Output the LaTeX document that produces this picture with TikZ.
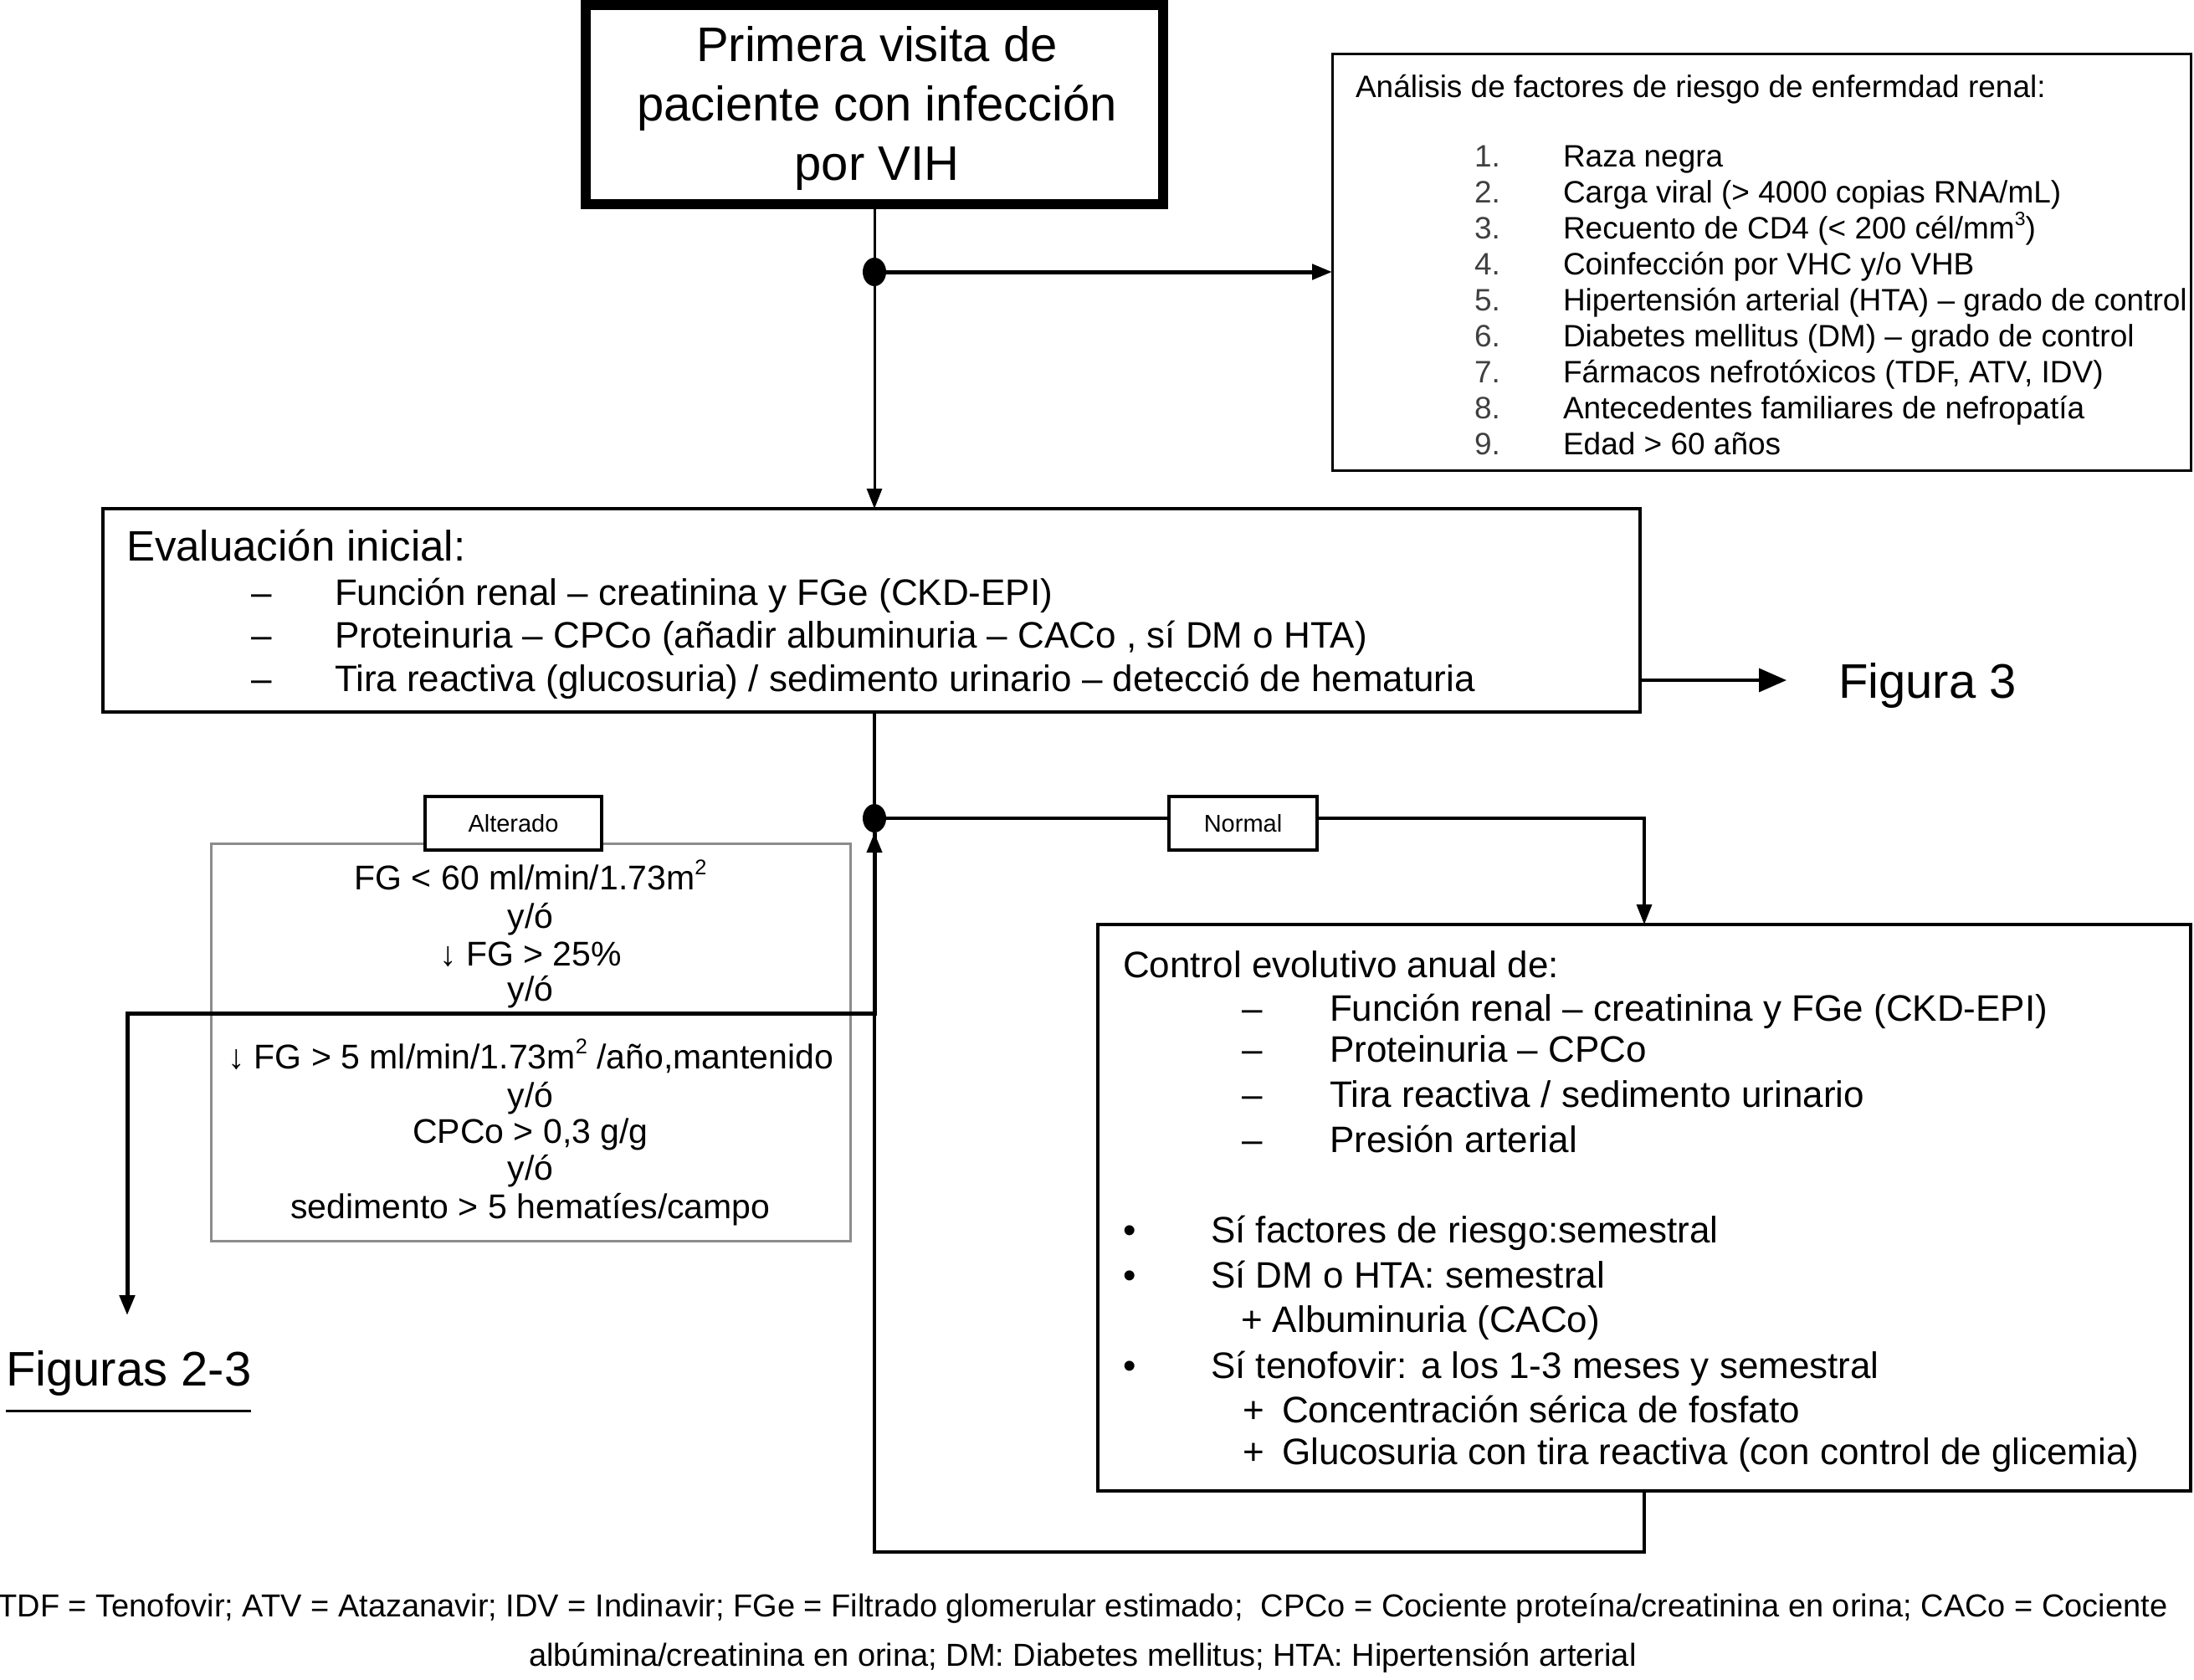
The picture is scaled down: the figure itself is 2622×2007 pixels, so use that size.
\documentclass[tikz,border=0pt]{standalone}
\usepackage{fontspec}
\setmainfont{Liberation Sans}
\usetikzlibrary{arrows.meta,shapes.geometric,calc}
\newcommand\mysup[1]{\raisebox{0.42em}{\scalebox{0.62}{#1}}}
\begin{document}
\begin{tikzpicture}[x=1pt,y=-1pt,
  frame/.style={draw, rectangle, inner sep=0pt, outer sep=0pt},
  txt/.style={inner sep=0pt, outer sep=0pt, anchor=base west},
  ctxt/.style={inner sep=0pt, outer sep=0pt, anchor=base},
  fT/.style={font=\fontsize{58}{70}\selectfont},
  fH/.style={font=\fontsize{51}{60}\selectfont},
  fA/.style={font=\fontsize{44}{52}\selectfont},
  fR/.style={font=\fontsize{37}{43}\selectfont},
  fG/.style={font=\fontsize{41}{45}\selectfont},
  fL/.style={font=\fontsize{29}{34}\selectfont},
  fF/.style={font=\fontsize{38}{46}\selectfont},
  junction/.style={ellipse, fill, inner sep=0pt, minimum width=28pt, minimum height=34pt},
  arr/.style={-{Triangle[length=24pt,width=18pt]}},
  arrbig/.style={-{Triangle[length=33pt,width=28pt]}},
  conn/.style={line width=3.5pt, line join=miter},
]
\useasboundingbox (0,0) rectangle (2622,2007);

% boxes
\node[frame, line width=12pt, minimum width=690pt, minimum height=238pt] (start) at (1045,125) {};
\node[ctxt, fT] (st1) at (1048,74) {Primera visita de};
\node[ctxt, fT] (st2) at (1048,145) {paciente con infección};
\node[ctxt, fT] (st3) at (1048,215) {por VIH};
\node[frame, line width=3pt, minimum width=1026pt, minimum height=497pt] (risk) at (2105,313.5) {};
\node[frame, line width=3.5pt, minimum width=1837pt, minimum height=243pt] (eval) at (1041.5,729.5) {};
\node[frame, line width=3pt, draw=black!45, minimum width=764pt, minimum height=475pt] (gray) at (634,1245.5) {};
\node[frame, line width=3.5pt, fill=white, minimum width=211pt, minimum height=64pt, fL] (alt) at (613.5,984) {Alterado};
\node[frame, line width=3.5pt, fill=white, minimum width=177pt, minimum height=64pt, fL] (normal) at (1485.5,984) {Normal};
\node[frame, line width=3.5pt, minimum width=1306pt, minimum height=677pt] (ctrl) at (1965,1443.5) {};

% junctions
\node[junction] (d1) at (1045,325) {};
\node[junction] (d2) at (1045,978) {};
\coordinate (f3in) at (2135,813);
\coordinate (loopy) at (1045,1855);
\coordinate (brk) at (1045,1211);
\coordinate (f23in) at (152,1572);

% risk box text
\node[txt, fR] (rh) at (1620,117) {Análisis de factores de riesgo de enfermdad renal:};
\node[txt, fR, text=black!75] (n1) at (1762,199) {1.};
\node[txt, fR, text=black!75] (n2) at (1762,242) {2.};
\node[txt, fR, text=black!75] (n3) at (1762,285) {3.};
\node[txt, fR, text=black!75] (n4) at (1762,328) {4.};
\node[txt, fR, text=black!75] (n5) at (1762,371) {5.};
\node[txt, fR, text=black!75] (n6) at (1762,414) {6.};
\node[txt, fR, text=black!75] (n7) at (1762,457) {7.};
\node[txt, fR, text=black!75] (n8) at (1762,500) {8.};
\node[txt, fR, text=black!75] (n9) at (1762,543) {9.};
\node[txt, fR] (r1) at (1868,199) {Raza negra};
\node[txt, fR] (r2) at (1868,242) {Carga viral (> 4000 copias RNA/mL)};
\node[txt, fR] (r3) at (1868,285) {Recuento de CD4 (< 200 cél/mm\mysup{3})};
\node[txt, fR] (r4) at (1868,328) {Coinfección por VHC y/o VHB};
\node[txt, fR] (r5) at (1868,371) {Hipertensión arterial (HTA) – grado de control};
\node[txt, fR] (r6) at (1868,414) {Diabetes mellitus (DM) – grado de control};
\node[txt, fR] (r7) at (1868,457) {Fármacos nefrotóxicos (TDF, ATV, IDV)};
\node[txt, fR] (r8) at (1868,500) {Antecedentes familiares de nefropatía};
\node[txt, fR] (r9) at (1868,543) {Edad > 60 años};

% evaluation text
\node[txt, fH] (eh) at (151,670) {Evaluación inicial:};
\node[txt, fA] (ed1) at (300,723) {–};
\node[txt, fA] (ed2) at (300,774) {–};
\node[txt, fA] (ed3) at (300,826) {–};
\node[txt, fA] (e1) at (400,723) {Función renal – creatinina y FGe (CKD-EPI)};
\node[txt, fA] (e2) at (400,774) {Proteinuria – CPCo (añadir albuminuria – CACo , sí DM o HTA)};
\node[txt, fA] (e3) at (400,826) {Tira reactiva (glucosuria) / sedimento urinario – detecció de hematuria};

\node[txt, fT] (fig3) at (2197,834) {Figura 3};
\node[txt, fT] (fig23) at (7,1656) {Figuras 2-3};

% gray box text
\node[ctxt, fG] (g1) at (634,1063) {FG < 60 ml/min/1.73m\mysup{2}};
\node[ctxt, fG] (g2) at (634,1109) {y/ó};
\node[ctxt, fG] (g3) at (634,1154) {↓ FG > 25\%};
\node[ctxt, fG] (g4) at (634,1196) {y/ó};
\node[ctxt, fG] (g5) at (634,1277) {↓ FG > 5 ml/min/1.73m\mysup{2} /año,mantenido};
\node[ctxt, fG] (g6) at (634,1323) {y/ó};
\node[ctxt, fG] (g7) at (634,1366) {CPCo > 0,3 g/g};
\node[ctxt, fG] (g8) at (634,1410) {y/ó};
\node[ctxt, fG] (g9) at (634,1456) {sedimento > 5 hematíes/campo};

% control text
\node[txt, fA] (ch) at (1342,1168) {Control evolutivo anual de:};
\node[txt, fA] (cd1) at (1484,1220) {–};
\node[txt, fA] (cd2) at (1484,1269) {–};
\node[txt, fA] (cd3) at (1484,1323) {–};
\node[txt, fA] (cd4) at (1484,1377) {–};
\node[txt, fA] (c1) at (1589,1220) {Función renal – creatinina y FGe (CKD-EPI)};
\node[txt, fA] (c2) at (1589,1269) {Proteinuria – CPCo};
\node[txt, fA] (c3) at (1589,1323) {Tira reactiva / sedimento urinario};
\node[txt, fA] (c4) at (1589,1377) {Presión arterial};
\node[txt, fA] (cb1) at (1342,1485) {•};
\node[txt, fA] (cb2) at (1342,1539) {•};
\node[txt, fA] (cb3) at (1342,1647) {•};
\node[txt, fA] (s1) at (1447,1485) {Sí factores de riesgo:semestral};
\node[txt, fA] (s2) at (1447,1539) {Sí DM o HTA: semestral};
\node[txt, fA] (s2a) at (1483,1592) {+ Albuminuria (CACo)};
\node[txt, fA] (s3) at (1447,1647) {Sí tenofovir: a los 1-3 meses y semestral};
\node[txt, fA] (p1) at (1485,1700) {+};
\node[txt, fA] (p2) at (1485,1750) {+};
\node[txt, fA] (s3a) at (1532,1700) {Concentración sérica de fosfato};
\node[txt, fA] (s3b) at (1532,1750) {Glucosuria con tira reactiva (con control de glicemia)};

% footer
\node[ctxt, fF] (foot1) at (1294,1932) {TDF = Tenofovir; ATV = Atazanavir; IDV = Indinavir; FGe = Filtrado glomerular estimado;\ \ CPCo = Cociente proteína/creatinina en orina; CACo = Cociente};
\node[ctxt, fF] (foot2) at (1294,1991) {albúmina/creatinina en orina; DM: Diabetes mellitus; HTA: Hipertensión arterial};

% connectors
\draw[line width=3pt] (start.south) -- (d1);
\draw[line width=3pt, arr] (d1) -- (d1 |- eval.north);
\draw[line width=5pt, arr] (d1) -- (d1 -| risk.west);
\draw[conn, arrbig] (eval.east |- f3in) -- (f3in);
\draw[conn] (d1 |- eval.south) -- (d2);
\draw[conn] (d2) -- (d2 -| normal.west);
\draw[conn, arr] (normal.east |- d2) -| (ctrl.north);
\draw[line width=4.5pt, arr] (ctrl.south) |- (loopy) -- (d2.south);
\draw[line width=5pt, line join=miter, arr] (d2) -- (brk) -| (f23in);
\draw[line width=3pt] ($(fig23.base west)+(0,30)$) -- ($(fig23.base east)+(0,30)$);
\end{tikzpicture}
\end{document}
